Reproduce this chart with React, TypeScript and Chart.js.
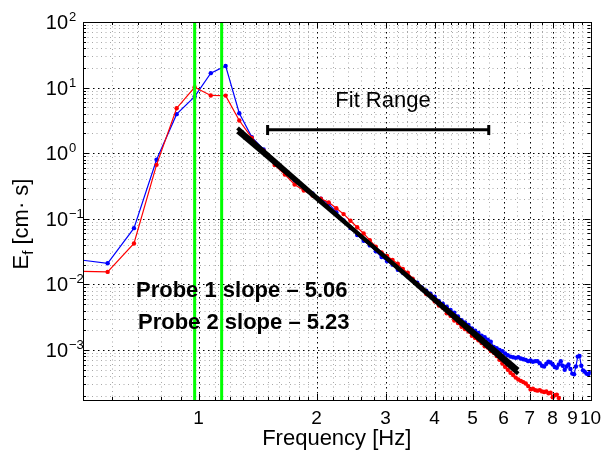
import React, { useEffect, useRef } from "react";
import { Chart, registerables } from "chart.js";
Chart.register(...registerables);

// ---------- data ----------
const freq = [0.488,0.586,0.684,0.781,0.879,0.977,1.074,1.172,1.270,1.367,1.465,1.563,1.660,1.758,1.855,1.953,2.051,2.148,2.246,2.344,2.441,2.539,2.637,2.734,2.832,2.930,3.027,3.125,3.223,3.320,3.418,3.516,3.613,3.711,3.809,3.906,4.004,4.102,4.199,4.297,4.395,4.492,4.590,4.688,4.785,4.883,4.980,5.078,5.176,5.273,5.371,5.469,5.566,5.664,5.762,5.859,5.957,6.055,6.152,6.250,6.348,6.445,6.543,6.641,6.738,6.836,6.934,7.031,7.129,7.227,7.324,7.422,7.520,7.617,7.715,7.813,7.910,8.008,8.105,8.203,8.301,8.398,8.496,8.594,8.691,8.789,8.887,8.984,9.082,9.180,9.277,9.375,9.473,9.570,9.668,9.766,9.863,9.961,10.059];

const probe1 = [0.024,0.021,0.072,0.794,3.94,7.3,16.6,21.4,4.07,
1.76,1.14,0.743,0.530,0.384,0.303,0.243,0.202,0.170,0.126,0.0940,0.0726,0.0565,0.0463,0.0393,0.0320,0.0262,0.0226,0.0200,0.0167,0.0150,0.0132,0.0119,0.0106,0.00897,0.00802,0.00719,0.00647,0.00558,0.00506,0.00458,0.00407,0.00372,0.00325,0.00284,0.00262,0.00241,0.00213,0.00197,0.00182,0.00165,0.00157,0.00143,0.00134,0.00111,0.00107,0.00100,0.000962,0.000883,0.000832,0.000794,0.000776,0.000759,0.000776,0.000741,0.000724,0.000708,0.000676,0.000692,0.000661,0.000676,0.000676,0.000631,0.000575,0.000562,0.000617,0.000661,0.000646,0.000603,0.000550,0.000537,0.000603,0.000676,0.000575,0.000501,0.000562,0.000603,0.000513,0.000437,0.000427,0.000562,0.000794,0.000813,0.000575,0.000490,0.000468,0.000437,0.000427,0.000447,0.000457];

const probe2 = [0.0159,0.0155,0.042,0.665,4.85,10.1,7.58,7.55,3.15,
1.71,1.09,0.662,0.472,0.334,0.270,0.227,0.202,0.178,0.145,0.118,0.0935,0.0745,0.0597,0.0472,0.0376,0.0308,0.0272,0.0236,0.0206,0.0172,0.0151,0.0122,0.0101,0.00857,0.00715,0.00671,0.00551,0.00475,0.00441,0.00364,0.00331,0.00282,0.00258,0.00226,0.00208,0.00191,0.00165,0.00153,0.00141,0.00128,0.00114,0.00109,0.000968,0.000906,0.000809,0.000708,0.000621,0.000557,0.000501,0.000451,0.000416,0.000380,0.000355,0.000339,0.000324,0.000309,0.000282,0.000251,0.000257,0.000245,0.000240,0.000245,0.000234,0.000229,0.000234,0.000219,0.000224,0.000191,0.000204,0.000209,0.000186,0.000158,0.000141,0.000132,0.000126,0.000135,0.000120,0.000112,0.000126,0.000117,0.000107,0.000112,0.000102,0.000100,0.000105,0.0000955,0.0000933,0.0000891,0.0000871];

const fitX = [1.257, 6.54];
const fit1Y = [2.12, 0.000504];
const fit2Y = [2.43, 0.000436];
const rangeX = [1.5, 5.5];
const rangeY = 2.27;
const rangeCapY = [1.9, 2.7];
const peakLinesX = [0.977, 1.145];
const peakLineY = [1e-6, 1e4];

const xTicks = [1, 2, 3, 4, 5, 6, 7, 8, 9, 10];
const xTickLabels = ["1", "2", "3", "4", "5", "6", "7", "8", "9", "10"];
const xMinor = [0.6,0.7,0.8,0.9,1.1,1.2,1.3,1.4,1.5,1.6,1.7,1.8,1.9,2.2,2.4,2.6,2.8,3.2,3.4,3.6,3.8,4.2,4.4,4.6,4.8,5.5,6.5,7.5,8.5,9.5];
const yTicks = [1e-3, 1e-2, 1e-1, 1, 10, 100];
const yTickExp = ["\u22123", "\u22122", "\u22121", "0", "1", "2"];
const yMinor = [2e-4,3e-4,4e-4,5e-4,6e-4,7e-4,8e-4,9e-4,2e-3,3e-3,4e-3,5e-3,6e-3,7e-3,8e-3,9e-3,0.02,0.03,0.04,0.05,0.06,0.07,0.08,0.09,0.2,0.3,0.4,0.5,0.6,0.7,0.8,0.9,2,3,4,5,6,7,8,9,20,30,40,50,60,70,80,90];

const xLabel = "Frequency [Hz]";
const fitText = "Fit Range";
const slopeText1 = "Probe 1 slope \u2013 5.06";
const slopeText2 = "Probe 2 slope \u2013 5.23";

const FONT = "'Liberation Sans', Arial, Helvetica, sans-serif";

const pts = (xs: number[], ys: number[]) => xs.map((v, i) => ({ x: v, y: ys[i] }));

const axesPlugin = {
  id: "matlabAxes",
  beforeDatasetsDraw(chart: any) {
    const { ctx, chartArea: a, scales } = chart;
    const x = scales.x, y = scales.y;
    ctx.save();
    ctx.lineWidth = 1;
    const vline = (v: number) => {
      const p = Math.round(x.getPixelForValue(v)) + 0.5;
      ctx.beginPath(); ctx.moveTo(p, a.top); ctx.lineTo(p, a.bottom); ctx.stroke();
    };
    const hline = (v: number) => {
      const p = Math.round(y.getPixelForValue(v)) + 0.5;
      ctx.beginPath(); ctx.moveTo(a.left, p); ctx.lineTo(a.right, p); ctx.stroke();
    };
    ctx.setLineDash([1, 3.5]);
    ctx.strokeStyle = "#a8a8a8";
    xMinor.forEach(vline);
    yMinor.forEach(hline);
    ctx.strokeStyle = "#000";
    ctx.setLineDash([1.5, 3.5]);
    xTicks.forEach(vline);
    yTicks.forEach(hline);
    ctx.restore();
  },
  afterDatasetsDraw(chart: any) {
    const { ctx, chartArea: a, scales } = chart;
    const x = scales.x, y = scales.y;
    ctx.save();
    // texts inside
    ctx.fillStyle = "#000";
    ctx.textBaseline = "middle";
    ctx.textAlign = "center";
    ctx.font = `22px ${FONT}`;
    ctx.fillText(fitText, a.left + 300, a.top + 79);
    ctx.textAlign = "left";
    ctx.font = `bold 22px ${FONT}`;
    ctx.fillText(slopeText1, a.left + 53, a.top + 269);
    ctx.fillText(slopeText2, a.left + 55, a.top + 301);

    // border
    ctx.strokeStyle = "#000";
    ctx.lineWidth = 1;
    ctx.setLineDash([]);
    ctx.strokeRect(Math.round(a.left) + 0.5, Math.round(a.top) + 0.5, Math.round(a.right - a.left), Math.round(a.bottom - a.top));
    // ticks
    const tx = (v: number, len: number) => {
      const p = Math.round(x.getPixelForValue(v)) + 0.5;
      ctx.beginPath();
      ctx.moveTo(p, a.bottom); ctx.lineTo(p, a.bottom - len);
      ctx.moveTo(p, a.top); ctx.lineTo(p, a.top + len);
      ctx.stroke();
    };
    const ty = (v: number, len: number) => {
      const p = Math.round(y.getPixelForValue(v)) + 0.5;
      ctx.beginPath();
      ctx.moveTo(a.left, p); ctx.lineTo(a.left + len, p);
      ctx.moveTo(a.right, p); ctx.lineTo(a.right - len, p);
      ctx.stroke();
    };
    xTicks.forEach((v) => tx(v, 6));
    xMinor.forEach((v) => tx(v, 3));
    yTicks.forEach((v) => ty(v, 6));
    yMinor.forEach((v) => ty(v, 3));

    // x tick labels
    ctx.fillStyle = "#000";
    ctx.font = `19px ${FONT}`;
    ctx.textAlign = "center";
    ctx.textBaseline = "alphabetic";
    xTicks.forEach((v, i) => {
      ctx.fillText(xTickLabels[i], x.getPixelForValue(v), a.bottom + 24);
    });
    // y tick labels with superscripts
    yTicks.forEach((v, i) => {
      const p = y.getPixelForValue(v);
      ctx.font = `20px ${FONT}`;
      ctx.textAlign = "right";
      ctx.fillText("10", a.left - 15, p + 7);
      ctx.font = `13px ${FONT}`;
      ctx.textAlign = "left";
      ctx.fillText(yTickExp[i], a.left - 14, p - 1);
    });
    // x label
    ctx.font = `22px ${FONT}`;
    ctx.textAlign = "center";
    ctx.fillText(xLabel, (a.left + a.right) / 2, 445);
    // y label: E_f [cm· s]
    ctx.translate(28, 224);
    ctx.rotate(-Math.PI / 2);
    ctx.font = `22px ${FONT}`;
    const wE = ctx.measureText("E").width;
    const rest = " [cm\u00b7 s]";
    const wR = ctx.measureText(rest).width;
    ctx.font = `15px ${FONT}`;
    const wF = ctx.measureText("f").width;
    const total = wE + wF + wR;
    let cx = -total / 2;
    ctx.textAlign = "left";
    ctx.font = `22px ${FONT}`;
    ctx.fillText("E", cx, 0);
    cx += wE;
    ctx.font = `15px ${FONT}`;
    ctx.fillText("f", cx, 5);
    cx += wF;
    ctx.font = `22px ${FONT}`;
    ctx.fillText(rest, cx, 0);
    ctx.restore();
  },
};

export default function App() {
  const ref = useRef<HTMLCanvasElement>(null);
  useEffect(() => {
    const common = { clip: 0, pointRadius: 0, fill: false, tension: 0 };
    const chart = new Chart(ref.current as HTMLCanvasElement, {
      type: "line",
      data: {
        datasets: [
          { ...common, data: pts(fitX, fit1Y), borderColor: "#000", borderWidth: 4 },
          { ...common, data: pts(fitX, fit2Y), borderColor: "#000", borderWidth: 4 },
          { ...common, data: pts(rangeX, [rangeY, rangeY]), borderColor: "#000", borderWidth: 3 },
          { ...common, data: pts([rangeX[0], rangeX[0]], rangeCapY), borderColor: "#000", borderWidth: 3 },
          { ...common, data: pts([rangeX[1], rangeX[1]], rangeCapY), borderColor: "#000", borderWidth: 3 },
          { ...common, data: pts([peakLinesX[0], peakLinesX[0]], peakLineY), borderColor: "#00ff00", borderWidth: 3 },
          { ...common, data: pts([peakLinesX[1], peakLinesX[1]], peakLineY), borderColor: "#00ff00", borderWidth: 3 },
          { ...common, data: pts(freq, probe2), borderColor: "#ff0000", backgroundColor: "#ff0000", borderWidth: 1.2, pointRadius: 2.2, pointBorderWidth: 0 },
          { ...common, data: pts(freq, probe1), borderColor: "#0000ff", backgroundColor: "#0000ff", borderWidth: 1.2, pointRadius: 2.2, pointBorderWidth: 0 },
        ],
      } as any,
      options: {
        responsive: false,
        animation: false,
        events: [],
        layout: { padding: { left: 83, right: 10.5, top: 22, bottom: 50 } },
        plugins: { legend: { display: false }, tooltip: { enabled: false } },
        scales: {
          x: { type: "logarithmic", min: 0.507, max: 10, display: false },
          y: { type: "logarithmic", min: 1.73e-4, max: 100, display: false },
        },
      } as any,
      plugins: [axesPlugin],
    });
    return () => chart.destroy();
  }, []);
  return (
    <div style={{ position: "fixed", left: 0, top: 0, width: 601, height: 450, background: "#fff" }}>
      <canvas ref={ref} width={601} height={450} style={{ display: "block", width: 601, height: 450 }} />
    </div>
  );
}
